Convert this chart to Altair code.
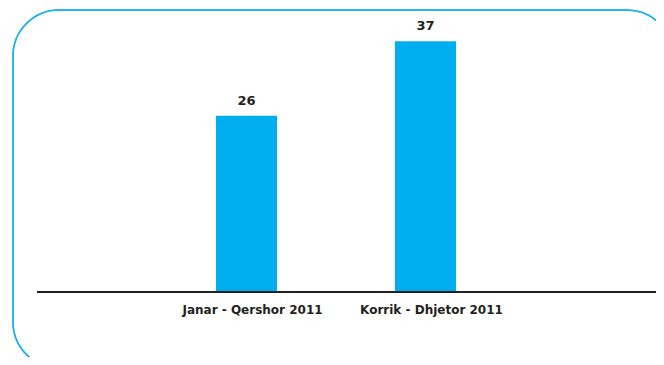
import altair as alt
import pandas as pd

categories = ["Janar - Qershor 2011", "Korrik - Dhjetor 2011"]
values = [26, 37]

df = pd.DataFrame({"period": categories, "value": values})

FONT = "DejaVu Sans"
TEXT_COLOR = "#231f20"
BAR_COLOR = "#00aeef"

xenc = alt.X(
    "period:N",
    sort=categories,
    title=None,
    scale=alt.Scale(paddingInner=0.659, paddingOuter=1.0),
    axis=alt.Axis(
        labelAngle=0,
        labelFont=FONT,
        labelFontSize=12,
        labelFontWeight="bold",
        labelColor=TEXT_COLOR,
        labelPadding=12,
        labelOffset=6,
        ticks=False,
        domain=False,
        grid=False,
    ),
)
yenc = alt.Y("value:Q", scale=alt.Scale(domain=[0, 40]), axis=None)

base = alt.Chart(df)

border = base.mark_rect(
    filled=False,
    stroke="#1cb2ee",
    strokeWidth=1.5,
    cornerRadius=46,
).encode(
    x=alt.value(-24),
    x2=alt.value(636),
    y=alt.value(-11),
    y2=alt.value(347),
)

baseline = base.mark_rule(color=TEXT_COLOR, strokeWidth=2).encode(
    x=alt.value(0),
    x2=alt.value(621),
    y=alt.value(271),
)

bars = base.mark_bar(color=BAR_COLOR).encode(x=xenc, y=yenc)

labels = base.mark_text(
    baseline="bottom",
    dy=-8,
    font=FONT,
    fontSize=13,
    fontWeight="bold",
    color=TEXT_COLOR,
).encode(x=xenc, y=yenc, text="value:Q")

chart = (
    alt.layer(border, bars, baseline, labels)
    .properties(
        width=598,
        height=271,
        background="white",
        autosize=alt.AutoSizeParams(type="none"),
        padding={"left": 29, "top": 13, "right": 21, "bottom": 65},
    )
    .configure_view(stroke=None)
)

chart.save("out.html", embed_options={"renderer": "svg", "actions": False})
